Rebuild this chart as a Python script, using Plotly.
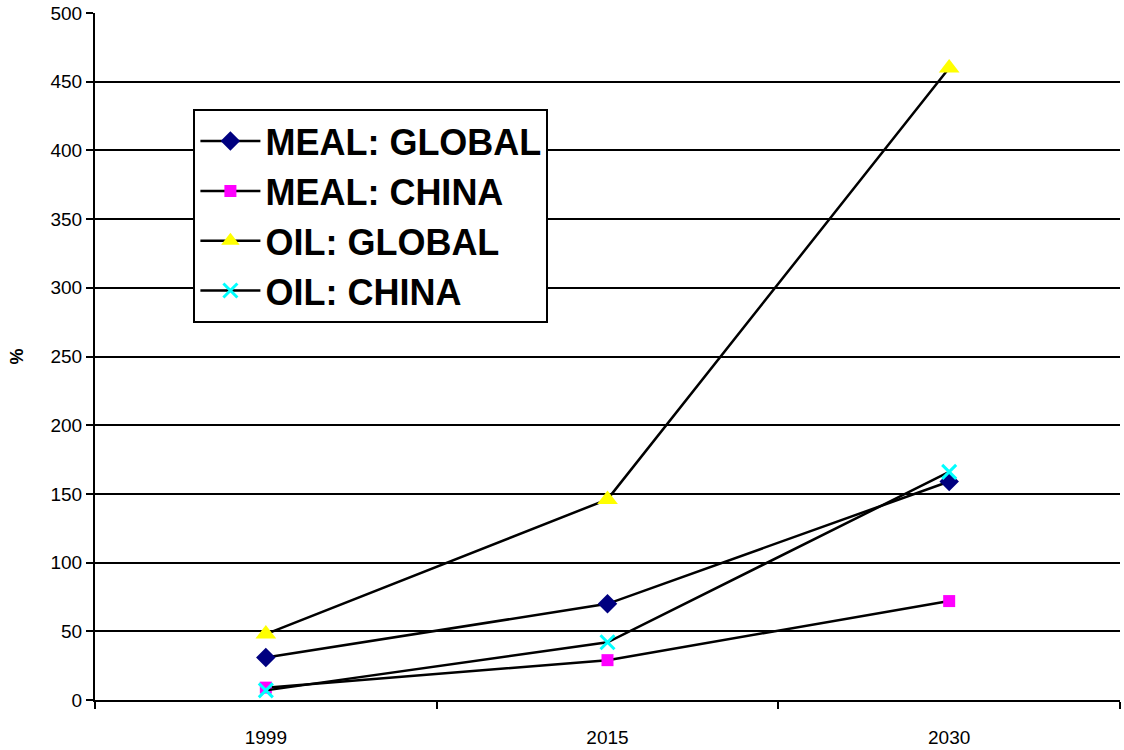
import plotly.graph_objects as go

years = ["1999", "2015", "2030"]
meal_global = [31, 70, 159]
meal_china = [9, 29, 72]
oil_global = [48, 146, 460]
oil_china = [7, 42, 166]

y_ticks = list(range(0, 501, 50))

series = [
    ("MEAL: GLOBAL", meal_global, dict(symbol="diamond", color="#000080", size=15)),
    ("MEAL: CHINA", meal_china, dict(symbol="square", color="#FF00FF", size=12)),
    ("OIL: GLOBAL", oil_global, dict(symbol="triangle-up", color="#FFFF00", size=18)),
    ("OIL: CHINA", oil_china, dict(symbol="x-thin-open", color="#00FFFF", size=14,
                                   line=dict(color="#00FFFF", width=3))),
]

fig = go.Figure()
for name, vals, marker in series:
    fig.add_trace(go.Scatter(
        x=years, y=vals, name=name, mode="lines+markers",
        line=dict(color="black", width=2.5),
        marker=marker,
    ))

fig.update_layout(
    width=1124, height=750,
    margin=dict(l=95, r=4, t=13, b=50),
    paper_bgcolor="white", plot_bgcolor="white",
    font=dict(family="Liberation Sans, Arial, sans-serif", color="black", size=19),
    showlegend=True,
    legend=dict(
        x=0.096, y=0.86, xanchor="left", yanchor="top",
        bordercolor="black", borderwidth=2, bgcolor="white",
        font=dict(size=36, family="Liberation Sans, Arial, sans-serif", weight="bold"),
        itemwidth=60, tracegroupgap=0,
    ),
    xaxis=dict(
        type="category", range=[-0.5, 2.5], automargin=False,
        showline=True, linecolor="black", linewidth=2,
        ticks="outside", tickson="boundaries", ticklen=7, tickcolor="black", tickwidth=2,
        showgrid=False, tickfont=dict(size=19), ticklabelstandoff=19,
    ),
    yaxis=dict(
        range=[0, 500], tickvals=y_ticks, automargin=False,
        showline=True, linecolor="black", linewidth=2,
        ticks="outside", ticklen=7, tickcolor="black", tickwidth=2,
        showgrid=True, gridcolor="black", gridwidth=1.5,
        zeroline=False, tickfont=dict(size=19),
        title=dict(text="<b>%</b>", font=dict(size=18), standoff=22),
    ),
)

fig.write_html("out.html")
